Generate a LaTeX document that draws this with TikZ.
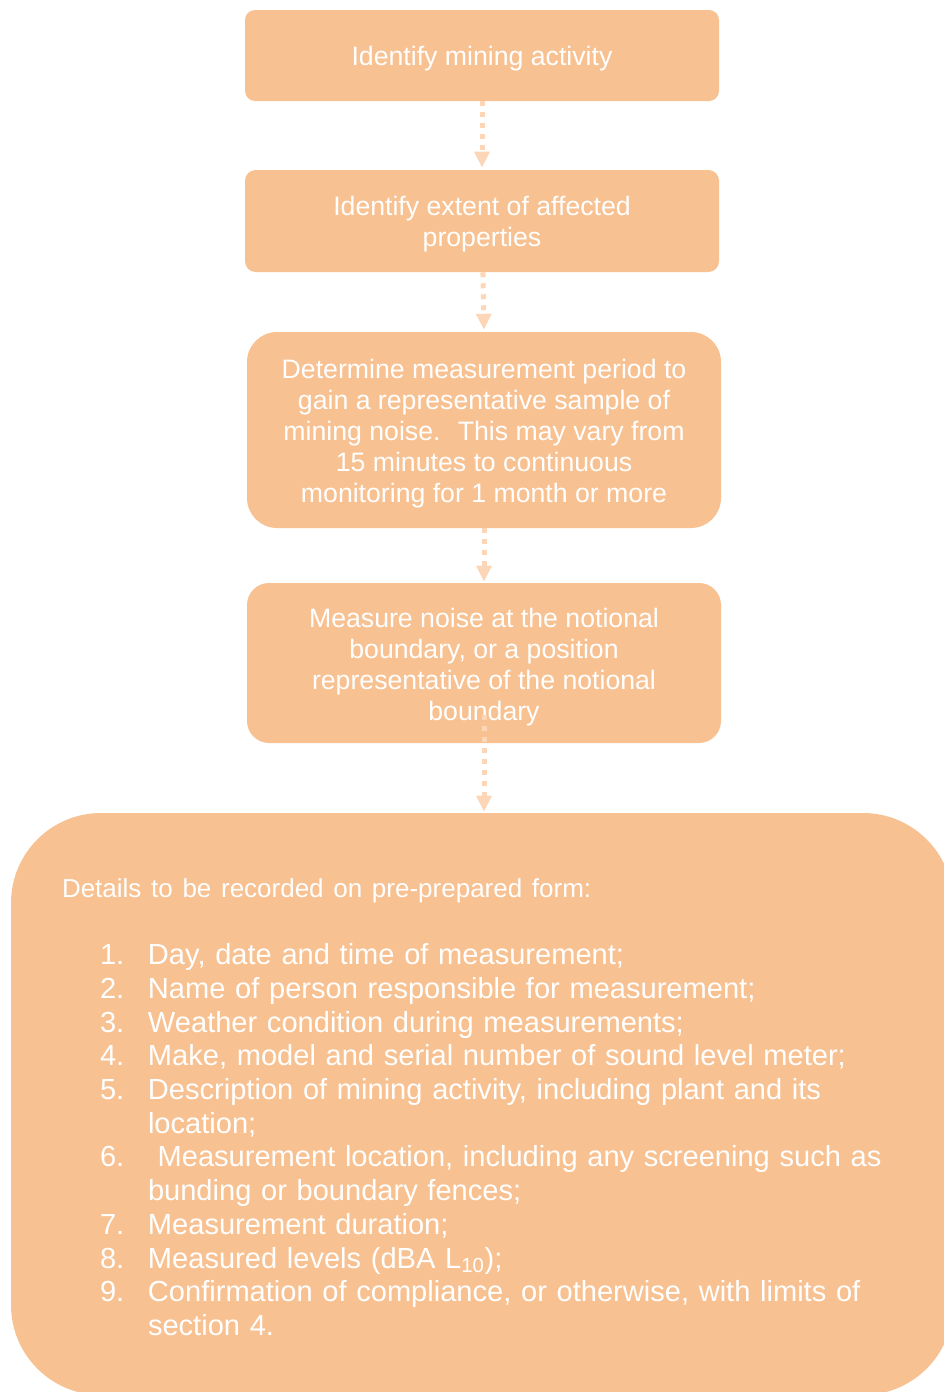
\documentclass[tikz,border=0pt]{standalone}
\usepackage{fontspec}
\setmainfont{Liberation Sans}
\usepackage{xcolor}
\usepackage{tikz}
\usetikzlibrary{arrows.meta,positioning}

\definecolor{peach}{HTML}{F8C191}
\definecolor{peachlight}{HTML}{FCD6B6}

\newcommand{\listitem}[2]{\hspace*{28.5pt}\makebox[36pt][l]{#1}#2}
\newcommand{\listcont}[1]{\hspace*{64.5pt}#1}
\newcommand{\boxstrut}[1][19.2pt]{\rule{0pt}{#1}}

\begin{document}
\begin{tikzpicture}[x=0.75pt, y=-0.75pt,
    flowbox/.style={fill=peach, text=white, align=center, inner sep=0pt, minimum width=355.5pt, font=\fontsize{20pt}{23.25pt}\selectfont},
    flowarrow/.style={draw=peachlight, line width=3.75pt, dash pattern=on 3.75pt off 4.5pt, -{Triangle[width=11pt, length=12pt, fill=peachlight]}}]
    \path[use as bounding box, clip] (0,0) rectangle (944,1392);

    % Steps
    \node[flowbox, minimum height=68.25pt, rounded corners=7.5pt] (activity) at (482,55.5) {\boxstrut Identify mining activity};
    \node[flowbox, minimum height=76.5pt, rounded corners=8pt] (extent) at (482,221) {\boxstrut Identify extent of affected\\properties};
    \node[flowbox, minimum height=147pt, rounded corners=22.5pt] (period) at (484,430) {\boxstrut Determine measurement period to\\gain a representative sample of\\mining noise.~ This may vary from\\15 minutes to continuous\\monitoring for 1 month or more};
    \node[flowbox, minimum height=120pt, rounded corners=16.5pt] (measure) at (484,663) {\boxstrut[20pt]Measure noise at the notional\\boundary, or a position\\representative of the notional\\boundary};

    % Record form
    \node[fill=peach, text=white, align=left, inner sep=0pt, minimum width=706.5pt, minimum height=436.5pt, text width=630pt, rounded corners=67.5pt, font=\fontsize{21.8pt}{25.3pt}\selectfont] (record) at (482,1104) {%
        {\fontsize{19.5pt}{25.3pt}\selectfont\boxstrut[18.7pt]Details to be recorded on pre-prepared form:}\\[25.3pt]
        \listitem{1.}{Day, date and time of measurement;}\\
        \listitem{2.}{Name of person responsible for measurement;}\\
        \listitem{3.}{Weather condition during measurements;}\\
        \listitem{4.}{Make, model and serial number of sound level meter;}\\
        \listitem{5.}{Description of mining activity, including plant and its}\\
        \listcont{location;}\\
        \listitem{6.}{\ Measurement location, including any screening such as}\\
        \listcont{bunding or boundary fences;}\\
        \listitem{7.}{Measurement duration;}\\
        \listitem{8.}{Measured levels (dBA L\textsubscript{10});}\\
        \listitem{9.}{Confirmation of compliance, or otherwise, with limits of}\\
        \listcont{section 4.}};

    % Arrows
    \draw[flowarrow] (activity) -- ([yshift=1.5pt]extent.north);
    \draw[flowarrow] (extent) -- ([yshift=1.5pt]period.north);
    \draw[flowarrow] (period) -- ([yshift=0.75pt]measure.north);
    \draw[flowarrow, shorten <=-21pt] (measure) -- ([yshift=0.75pt]record.north -| measure.south);
\end{tikzpicture}
\end{document}
